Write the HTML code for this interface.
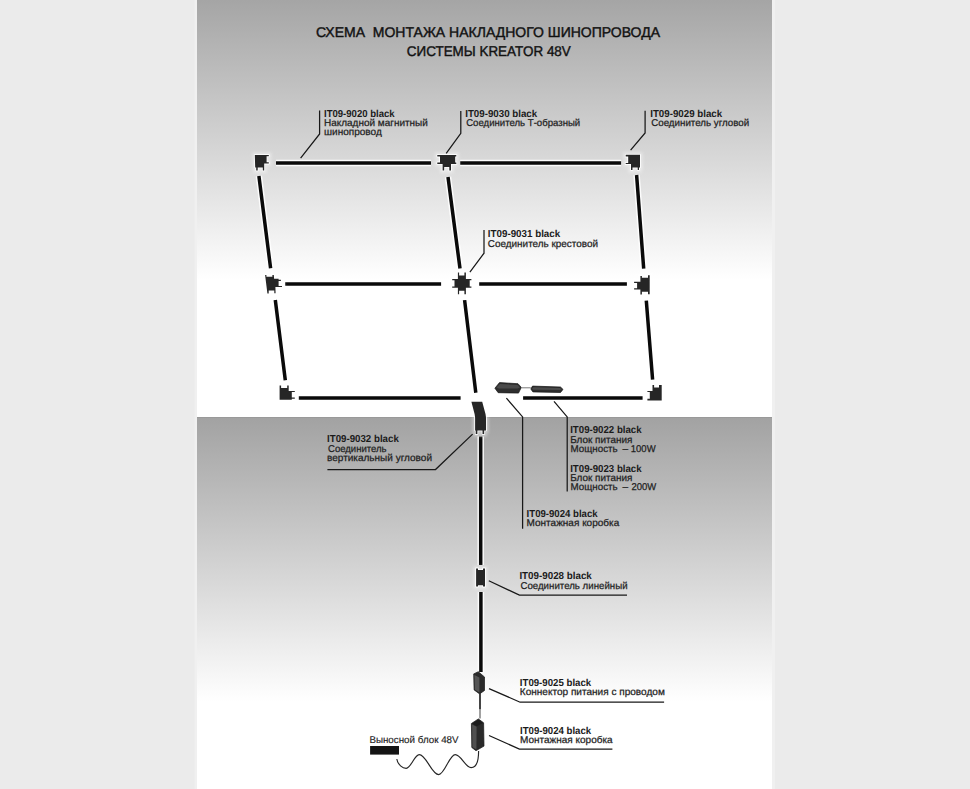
<!DOCTYPE html>
<html><head><meta charset="utf-8">
<style>
html,body{margin:0;padding:0;width:970px;height:789px;overflow:hidden;background:#ebebeb;}
svg{position:absolute;left:0;top:0;display:block;}
text{font-family:"Liberation Sans",sans-serif;}
.t{font-size:14.1px;font-weight:normal;fill:#111;stroke:#111;stroke-width:0.4px;text-rendering:geometricPrecision;}
.b{font-size:10.1px;font-weight:bold;fill:#1a1a1a;text-rendering:geometricPrecision;}
.r{font-size:9.9px;font-weight:normal;fill:#1e1e1e;stroke:#1e1e1e;stroke-width:0.25px;text-rendering:geometricPrecision;}
.v{font-size:9.8px;font-weight:normal;fill:#1e1e1e;stroke:#1e1e1e;stroke-width:0.15px;text-rendering:geometricPrecision;}
</style></head>
<body>
<svg width="970" height="789" viewBox="0 0 970 789">
<defs>
<linearGradient id="g1" x1="0" y1="0" x2="0" y2="1">
<stop offset="0" stop-color="#a5a5a5"/>
<stop offset="0.671" stop-color="#ffffff"/>
<stop offset="1" stop-color="#ffffff"/>
</linearGradient>
<linearGradient id="g2" x1="0" y1="0" x2="0" y2="1">
<stop offset="0" stop-color="#a2a2a2"/>
<stop offset="0.765" stop-color="#ffffff"/>
<stop offset="1" stop-color="#ffffff"/>
</linearGradient>
<filter id="blur" x="-50%" y="-50%" width="200%" height="200%"><feGaussianBlur stdDeviation="1.6"/></filter>
</defs>
<rect x="0" y="0" width="970" height="789" fill="#ebebeb"/>
<rect x="194.5" y="0" width="580.5" height="789" fill="#f0f0f0"/>
<rect x="197" y="0" width="575" height="417" fill="url(#g1)"/>
<rect x="197" y="417" width="575" height="372" fill="url(#g2)"/>
<rect x="197" y="417" width="575" height="1" fill="#999999"/>


<!-- rails -->
<g id="rails" fill="none" stroke-linecap="butt">
<g stroke="#ffffff" stroke-width="6.5" opacity="0.9">
<path d="M276 163H431M460.2 163H621.1M285.2 284H441.1M479.2 284H626.9M298.8 398H460.6M523.1 398H642.6"/>
<path d="M258.9 176L270.6 268.3M275.3 300L285.3 380.2M448 177L460 268.6M464.6 300.1L475.8 392.8M636.6 175L643.7 268.6M646.3 300.6L652.6 379.7"/>
<path d="M480.7 436.6V565M480.9 592V672"/>
</g>
<g stroke="#0a0a0a" stroke-width="3.5">
<path d="M276 163H431M460.2 163H621.1M285.2 284H441.1M479.2 284H626.9M298.8 398H460.6M523.1 398H642.6"/>
<path d="M258.9 176L270.6 268.3M275.3 300L285.3 380.2M448 177L460 268.6M464.6 300.1L475.8 392.8M636.6 175L643.7 268.6M646.3 300.6L652.6 379.7"/>
<path d="M480.7 436.6V565M480.9 592V672"/>
</g>
</g>


<!-- connectors -->
<g filter="url(#blur)" fill="none" stroke="#ffffff" stroke-width="5" opacity="0.4"><use href="#k0"/><use href="#k1"/><use href="#k2"/><use href="#k3"/><use href="#k4"/><use href="#k5"/><use href="#k6"/><use href="#k7"/><use href="#k8"/><use href="#k9"/></g>
<g id="conn" fill="#262626" stroke="#ffffff" stroke-width="1.6" paint-order="stroke" stroke-linejoin="round">
<path id="k0" d="M254.8 155H268.8V156.2H266.6V162.3H268.8V163.6H264.2V170.4H262.8V167.4H257.7V170.4H256.2V167.4H255.2Z"/>
<path id="k1" d="M437.3 155H456.3V156.6H455.2V162.4H456.3V164H451V170.4H449.3V167H444.2V170.4H442.6V164H437.3V162.4H440V156.6H437.3Z"/>
<path id="k2" d="M625.7 154.8H640V167.4H639V169.9H637.7V167.4H632.5V169.9H631V164.1H625.7V163H628.2V156.6H625.7Z"/>
<path id="k3" d="M265.1 275.1H266.4V276.7H272.4V274.9H273.8L274.1 278.8H278.6V279.7H280.9V280.9H278.6V285.9H282V287.1H275.4L275.6 293.2H274.3V290.5H268.7V293.6H267.4Z"/>
<path id="k4" d="M457.9 272.6H459.1V275.4H464.4V272.6H465.9V279H471.4V280.2H469.7V286.5H471.4V287.8H465.9V294.2H464.4V290.8H459.1V294.2H457.9V287.8H452.2V286.5H454.5V280.2H452.2V279H457.9Z"/>
<path id="k5" d="M640.4 275.9H641.9V277.8H648V275.3H649.7V294.3H648V291.7H641.9V294.5H640.4V289.6H634.1V288.3H637.1V283.1H634.1V281.8H640.4Z"/>
<path id="k6" d="M279.6 385.4H281.1V388.1H287.2V385.4H288.7V391.1H294.8V392.1H291.8V397.4H294.8V398.7H291.8V399.8H279.6Z"/>
<path id="k7" d="M652.5 385H654.1V387.5H659V385H661.7V400.4H647.4V398.7H649.8V392.1H647.4V390.9H652.5Z"/>
<path id="k8" d="M471.4 401.7H482.2L485.5 414Q486 416.5 486 419V430.5H484.2V433.9H482.5V430.5H477.4V433.9H475.7V430.5H475.1V419Q475.1 416.5 474.6 414Z"/>
<path id="k9" d="M476.1 568.4H478V570.1H483V568.4H485V586.6H483V585.2H478V586.6H476.1Z"/>
</g>
<g stroke="#161616" stroke-width="0.7" stroke-linejoin="round">
<path fill="#2e2e2e" d="M494.9 388.2L499.5 382.6L518 383.7L521.3 387.4L518.5 393.1L498.2 392.7Z"/>
<path fill="#4a4a4a" stroke="none" d="M496.5 387.6L500 384L517.5 385L520 387.6L517.5 388.6L499 388.4Z"/>
<path fill="#2e2e2e" d="M530.8 389L532.5 386.1L560.5 387L563 389.4L560.5 392.5L532.9 391.9Z"/>
<path fill="#4a4a4a" stroke="none" d="M532 388.8L533.5 387.2L560 388L561.8 389.4L560 390L533.5 389.8Z"/>
<path fill="#2a2a2a" d="M473.7 673.9L478.3 671.7L484.5 677V690.5L479.6 693.9L474.1 689.9Z"/>
<path fill="#555" stroke="none" d="M474.4 675L479.4 677.5V692.6L474.8 689.4Z"/>
<path fill="#2a2a2a" d="M478.4 718.9L483.6 722.8L484 746.1L476 750.7L471.8 747.5L471.4 723.5Z"/>
<path fill="#505050" stroke="none" d="M472.1 724.4L476.6 726.8L476.4 749.6L472.4 747Z"/>
<path fill="#1c1c1c" stroke="none" d="M478.4 719.6L483 722.9L476.8 726.2L472.2 723.6Z"/>
</g>
<path d="M521.3 387.8H530.8" stroke="#7a7a7a" stroke-width="1" fill="none"/>
<path d="M480 693V709.5" stroke="#303030" stroke-width="1.8" fill="none"/><path d="M480 709.5V718.5" stroke="#8a8a8a" stroke-width="1.6" fill="none"/>
<rect x="370.1" y="746" width="28.9" height="8.6" fill="#141414"/>
<path d="M396.8 759C398 765 402.5 768.3 406.2 768.3C410.9 768.3 414.5 754.6 419.2 754.6C426.3 754.6 431.6 774.6 438.7 774.6C444.7 774.6 449.3 754.6 455.3 754.6C461.1 754.6 465.3 767.6 471.1 767.6C475 767.6 478.6 763 478.6 751" stroke="#262626" stroke-width="1.15" fill="none"/>

<!-- leader lines -->
<g fill="none" stroke="#181818" stroke-width="1.25">
<path d="M319.6 110.5V134L300.6 158.1"/>
<path d="M460.8 111V133.4L446.2 153.4"/>
<path d="M645.1 110.8V133L630.6 150.1"/>
<path d="M484 230V253.2L469.9 272.2"/>
<path d="M327.4 469.5H435.5L472.6 434.1"/>
<path d="M506.4 398.1L522.6 416.9V528.8"/>
<path d="M554 401.4L567.2 416.9V491.6"/>
<path d="M488.8 580.8L519.4 595.1H627"/>
<path d="M489 688.6L520.1 702.2H664.1"/>
<path d="M489 735.5L519.4 749.1H612.4"/>
</g>

<text class="t" x="316.0" y="37.3" textLength="344.0" lengthAdjust="spacingAndGlyphs" xml:space="preserve">СХЕМА  МОНТАЖА НАКЛАДНОГО ШИНОПРОВОДА</text>
<text class="t" x="406.8" y="55.5" textLength="164.0" lengthAdjust="spacingAndGlyphs" xml:space="preserve">СИСТЕМЫ KREATOR 48V</text>
<text class="b" x="324.0" y="117.0" textLength="70.6" lengthAdjust="spacingAndGlyphs" xml:space="preserve">IT09-9020 black</text>
<text class="r" x="324.0" y="126.3" textLength="103.8" lengthAdjust="spacingAndGlyphs" xml:space="preserve">Накладной магнитный</text>
<text class="r" x="324.0" y="135.2" textLength="57.8" lengthAdjust="spacingAndGlyphs" xml:space="preserve">шинопровод</text>
<text class="b" x="465.2" y="117.0" textLength="72.0" lengthAdjust="spacingAndGlyphs" xml:space="preserve">IT09-9030 black</text>
<text class="r" x="466.2" y="126.3" textLength="114.0" lengthAdjust="spacingAndGlyphs" xml:space="preserve">Соединитель Т-образный</text>
<text class="b" x="650.2" y="117.0" textLength="72.0" lengthAdjust="spacingAndGlyphs" xml:space="preserve">IT09-9029 black</text>
<text class="r" x="651.2" y="126.3" textLength="98.0" lengthAdjust="spacingAndGlyphs" xml:space="preserve">Соединитель угловой</text>
<text class="b" x="487.8" y="237.3" textLength="72.4" lengthAdjust="spacingAndGlyphs" xml:space="preserve">IT09-9031 black</text>
<text class="r" x="487.8" y="246.6" textLength="110.2" lengthAdjust="spacingAndGlyphs" xml:space="preserve">Соединитель крестовой</text>
<text class="b" x="327.0" y="442.0" textLength="71.8" lengthAdjust="spacingAndGlyphs" xml:space="preserve">IT09-9032 black</text>
<text class="r" x="328.0" y="451.5" textLength="58.6" lengthAdjust="spacingAndGlyphs" xml:space="preserve">Соединитель</text>
<text class="r" x="327.0" y="460.9" textLength="105.0" lengthAdjust="spacingAndGlyphs" xml:space="preserve">вертикальный угловой</text>
<text class="b" x="570.2" y="433.4" textLength="71.4" lengthAdjust="spacingAndGlyphs" xml:space="preserve">IT09-9022 black</text>
<text class="r" x="570.2" y="442.9" textLength="62.2" lengthAdjust="spacingAndGlyphs" xml:space="preserve">Блок питания</text>
<text class="r" x="570.6" y="452.2" textLength="47.0" lengthAdjust="spacingAndGlyphs" xml:space="preserve">Мощность</text>
<text class="r" x="622.6" y="452.2" textLength="5.6" lengthAdjust="spacingAndGlyphs" xml:space="preserve">—</text>
<text class="r" x="630.8" y="452.2" textLength="24.8" lengthAdjust="spacingAndGlyphs" xml:space="preserve">100W</text>
<text class="b" x="570.2" y="471.5" textLength="71.4" lengthAdjust="spacingAndGlyphs" xml:space="preserve">IT09-9023 black</text>
<text class="r" x="570.2" y="481.0" textLength="62.2" lengthAdjust="spacingAndGlyphs" xml:space="preserve">Блок питания</text>
<text class="r" x="570.6" y="490.3" textLength="47.0" lengthAdjust="spacingAndGlyphs" xml:space="preserve">Мощность</text>
<text class="r" x="622.6" y="490.3" textLength="5.6" lengthAdjust="spacingAndGlyphs" xml:space="preserve">—</text>
<text class="r" x="631.4" y="490.3" textLength="24.8" lengthAdjust="spacingAndGlyphs" xml:space="preserve">200W</text>
<text class="b" x="526.6" y="516.7" textLength="71.0" lengthAdjust="spacingAndGlyphs" xml:space="preserve">IT09-9024 black</text>
<text class="r" x="526.6" y="526.2" textLength="92.6" lengthAdjust="spacingAndGlyphs" xml:space="preserve">Монтажная коробка</text>
<text class="b" x="519.4" y="579.1" textLength="72.4" lengthAdjust="spacingAndGlyphs" xml:space="preserve">IT09-9028 black</text>
<text class="r" x="520.4" y="588.5" textLength="107.2" lengthAdjust="spacingAndGlyphs" xml:space="preserve">Соединитель линейный</text>
<text class="b" x="519.8" y="685.5" textLength="71.4" lengthAdjust="spacingAndGlyphs" xml:space="preserve">IT09-9025 black</text>
<text class="r" x="519.8" y="695.1" textLength="145.0" lengthAdjust="spacingAndGlyphs" xml:space="preserve">Коннектор питания с проводом</text>
<text class="b" x="520.0" y="733.9" textLength="71.2" lengthAdjust="spacingAndGlyphs" xml:space="preserve">IT09-9024 black</text>
<text class="r" x="520.0" y="743.3" textLength="92.6" lengthAdjust="spacingAndGlyphs" xml:space="preserve">Монтажная коробка</text>
<text class="v" x="369.4" y="743.2" textLength="89.2" lengthAdjust="spacingAndGlyphs" xml:space="preserve">Выносной блок 48V</text>











</svg>
</body></html>
